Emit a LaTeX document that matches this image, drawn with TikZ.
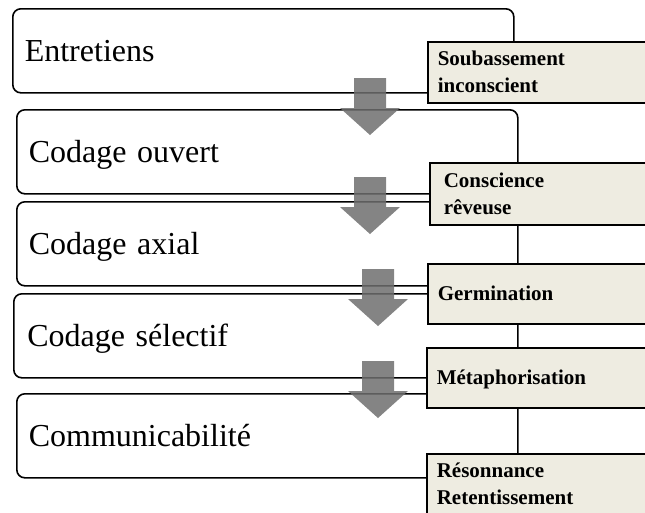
\documentclass[tikz,border=0pt]{standalone}
\usepackage{fontspec}
\setmainfont{Liberation Serif}
\definecolor{labfill}{RGB}{238,236,225}
\definecolor{arrowgray}{RGB}{110,110,110}
\begin{document}
\begin{tikzpicture}[x=1pt,y=-1pt,
  stage/.style={draw=black, line width=1.6pt, rounded corners=8pt, anchor=north west,
    minimum width=501pt, minimum height=84pt, text width=477pt, inner xsep=12pt,
    inner ysep=0pt, align=left, font=\fontsize{32}{36}\selectfont,
    text height=22pt, text depth=0pt},
  lab/.style={draw=black, line width=1.6pt, fill=labfill, anchor=north west,
    minimum width=230pt, text width=210pt, inner xsep=10pt, inner ysep=0pt,
    align=left, font=\bfseries\fontsize{21}{27}\selectfont,
    text height=14pt, text depth=0pt},
  labtwo/.style={lab, text depth=27pt},
  arrowfill/.style={fill=arrowgray, fill opacity=0.85},
  blockarrow/.pic={\fill[arrowfill] (-16,0) -- (16,0) -- (16,30) -- (30,30) -- (0,57) -- (-30,30) -- (-16,30) -- cycle;}
]
\clip (0,0) rectangle (645,512);
% main stages
\node[stage] (s1) at (12,8) {Entretiens};
\node[stage] (s2) at (16,109) {Codage ouvert};
\node[stage] (s3) at (16,201) {Codage axial};
\node[stage, minimum width=504pt] (s4) at (13,293) {Codage sélectif};
\node[stage] (s5) at (16,393) {Communicabilité};
% labels
\node[labtwo, minimum height=61pt] (l1) at (427,41) {Soubassement\\inconscient};
\node[labtwo, minimum height=62pt, text width=206pt, inner xsep=14pt] (l2) at (429,162) {Conscience\\rêveuse};
\node[lab, minimum height=60pt] (l3) at (427,263) {Germination};
\node[lab, minimum height=60pt] (l4) at (426,347) {Métaphorisation};
\node[labtwo, minimum height=61pt] (l5) at (426,453) {Résonnance\\Retentissement};
% arrows
\pic at (370,78) {blockarrow};
\pic at (370,177) {blockarrow};
\pic at (378,269) {blockarrow};
\pic at (378,361) {blockarrow};
\end{tikzpicture}
\end{document}
